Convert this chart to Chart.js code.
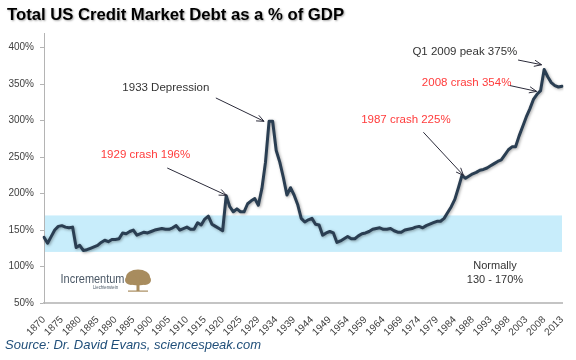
<!DOCTYPE html>
<html>
<head>
<meta charset="utf-8">
<script src="https://cdn.jsdelivr.net/npm/chart.js@4/dist/chart.umd.min.js"></script>
<style>
  html, body { margin: 0; padding: 0; background: #fff; }
  #wrap { width: 576px; height: 360px; }
</style>
</head>
<body>
<div id="wrap"><canvas id="debtChart" width="576" height="360"></canvas></div>
<script>
// categories (one per data point, axis labels every 5th)
var years = [
  1870, 1871, 1872, 1873, 1874, 1875, 1876, 1877, 1878, 1879,
  1880, 1881, 1882, 1883, 1884, 1885, 1886, 1887, 1888, 1889,
  1890, 1891, 1892, 1893, 1894, 1895, 1896, 1897, 1898, 1899,
  1900, 1901, 1902, 1903, 1904, 1905, 1906, 1907, 1908, 1909,
  1910, 1911, 1912, 1913, 1914, 1915, 1916, 1917, 1918, 1919,
  1920, 1921, 1922, 1923, 1924, 1925, 1926, 1927, 1928, 1929,
  1929, 1930, 1931, 1932, 1933, 1934, 1935, 1936, 1937, 1938,
  1939, 1940, 1941, 1942, 1943, 1944, 1945, 1946, 1947, 1948,
  1949, 1950, 1951, 1952, 1953, 1954, 1955, 1956, 1957, 1958,
  1959, 1960, 1961, 1962, 1963, 1964, 1965, 1966, 1967, 1968,
  1969, 1970, 1971, 1972, 1973, 1974, 1975, 1976, 1977, 1978,
  1979, 1980, 1981, 1982, 1983, 1984, 1985, 1986, 1987, 1987,
  1988, 1989, 1990, 1991, 1992, 1993, 1994, 1995, 1996, 1997,
  1998, 1999, 2000, 2001, 2002, 2003, 2004, 2005, 2006, 2007,
  2008, 2009, 2010, 2011, 2012, 2013
];

// debt as % of GDP
var debtPct = [
  140, 132, 141, 150, 155, 156, 154, 153, 154, 126,
  129, 122, 123, 125, 127, 129, 133, 136, 134, 137,
  137, 138, 146, 145, 148, 150, 143, 145, 147, 146,
  148, 150, 151, 152, 151, 151, 153, 156, 150, 152,
  154, 151, 151, 160, 157, 165, 169, 158, 155, 152,
  149, 197, 182, 175, 179, 175, 175, 186, 190, 193,
  184, 207, 243, 299, 299, 259, 243, 222, 198, 208,
  198, 185, 166, 161, 164, 166, 158, 157, 143, 146,
  148, 146, 133, 135, 138, 141, 138, 138, 142, 145,
  146, 148, 151, 152, 153, 151, 151, 152, 149, 147,
  147, 150, 151, 152, 154, 155, 153, 156, 158, 160,
  162, 162, 166, 174, 182, 192, 208, 225, 221, 224,
  227, 229, 232, 233, 235, 238, 241, 244, 246, 253,
  260, 264, 264, 279, 292, 305, 316, 329, 336, 341,
  370, 360, 352, 348, 346, 347
];

var yTicks = [50, 100, 150, 200, 250, 300, 350, 400];
var normalBand = [120, 170];

// annotations: text position and arrow in data units (category index, %)
var notes = [
  { text: '1933 Depression', color: '#333333', at: [34.1, 345.5], from: [48.1, 331], to: [61.6, 299] },
  { text: '1929 crash 196%', color: '#ff3b3b', at: [28.4, 253], from: [34.5, 235], to: [51.1, 197.5] },
  { text: '1987 crash 225%', color: '#ff3b3b', at: [101.3, 301], from: [106.2, 284], to: [117.4, 225] },
  { text: '2008 crash 354%', color: '#ff3b3b', at: [118.3, 352], from: [130.4, 348], to: [137.9, 340] },
  { text: 'Q1 2009 peak 375%', color: '#333333', at: [117.8, 394.6], from: [132.7, 383], to: [139.3, 376.5] }
];
var bandNote = ['Normally', '130 - 170%'];

var FONT = '"Liberation Sans", Arial, sans-serif';

var bandPlugin = {
  id: 'band',
  beforeDatasetsDraw: function (chart) {
    var ctx = chart.ctx, a = chart.chartArea, y = chart.scales.y;
    var top = y.getPixelForValue(normalBand[1]);
    var bot = y.getPixelForValue(normalBand[0]);
    ctx.save();
    ctx.fillStyle = '#c8edfb';
    ctx.fillRect(a.left + 1, top, a.right - a.left - 1, bot - top);
    ctx.restore();
  }
};

var shadowPlugin = {
  id: 'lineShadow',
  beforeDatasetDraw: function (chart) {
    var ctx = chart.ctx;
    ctx.save();
    ctx.shadowColor = 'rgba(0,0,0,0.35)';
    ctx.shadowBlur = 3;
    ctx.shadowOffsetX = 1;
    ctx.shadowOffsetY = 1;
  },
  afterDatasetDraw: function (chart) {
    chart.ctx.restore();
  }
};

function drawArrow(ctx, x1, y1, x2, y2) {
  var ang = Math.atan2(y2 - y1, x2 - x1);
  var len = 8;
  ctx.beginPath();
  ctx.moveTo(x1, y1);
  ctx.lineTo(x2, y2);
  ctx.moveTo(x2 - len * Math.cos(ang - 0.4), y2 - len * Math.sin(ang - 0.4));
  ctx.lineTo(x2, y2);
  ctx.lineTo(x2 - len * Math.cos(ang + 0.4), y2 - len * Math.sin(ang + 0.4));
  ctx.stroke();
}

var textPlugin = {
  id: 'texts',
  afterDraw: function (chart) {
    var ctx = chart.ctx, xs = chart.scales.x, ys = chart.scales.y, a = chart.chartArea;
    var px = function (i) { return xs.left + (xs.right - xs.left) * i / (years.length - 1); };
    var py = function (v) { return ys.getPixelForValue(v); };
    ctx.save();

    // title
    ctx.save();
    ctx.font = 'bold 17px ' + FONT;
    ctx.fillStyle = '#000';
    ctx.textBaseline = 'alphabetic';
    ctx.shadowColor = 'rgba(0,0,0,0.35)';
    ctx.shadowBlur = 2;
    ctx.shadowOffsetX = 1;
    ctx.shadowOffsetY = 1;
    ctx.fillText('Total US Credit Market Debt as a % of GDP', 7, 20, 337);
    ctx.restore();

    // source
    ctx.font = 'italic 13px ' + FONT;
    ctx.fillStyle = '#1f4e79';
    ctx.textBaseline = 'middle';
    ctx.fillText('Source: Dr. David Evans, sciencespeak.com', 5, 345);

    // annotations
    ctx.font = '11.5px ' + FONT;
    ctx.textAlign = 'center';
    ctx.lineWidth = 1;
    ctx.strokeStyle = '#2b2b3a';
    notes.forEach(function (n) {
      ctx.fillStyle = n.color;
      ctx.fillText(n.text, px(n.at[0]), py(n.at[1]));
      drawArrow(ctx, px(n.from[0]), py(n.from[1]), px(n.to[0]), py(n.to[1]));
    });

    // band label
    ctx.fillStyle = '#333';
    ctx.font = '11px ' + FONT;
    ctx.fillText(bandNote[0], 495, 266);
    ctx.fillText(bandNote[1], 495, 279.5);

    // Incrementum logo
    ctx.textAlign = 'left';
    ctx.fillStyle = '#4b5866';
    ctx.font = '13px ' + FONT;
    ctx.fillText('Incrementum', 60.5, 279, 64);
    ctx.font = '4.5px ' + FONT;
    ctx.fillText('Liechtenstein', 93, 287.5, 25);
    ctx.fillStyle = '#a88c5e';
    ctx.beginPath();
    ctx.ellipse(138, 277.5, 12, 8, 0, 0, Math.PI * 2);
    ctx.fill();
    ctx.beginPath();
    ctx.ellipse(131, 280, 6, 5, 0, 0, Math.PI * 2);
    ctx.ellipse(145, 280, 6, 5, 0, 0, Math.PI * 2);
    ctx.fill();
    ctx.fillRect(136.5, 282, 3, 9);
    ctx.fillRect(128, 290.5, 20, 1.2);

    ctx.restore();
  }
};

var ctx = document.getElementById('debtChart').getContext('2d');
var debtChart = new Chart(ctx, {
  type: 'line',
  data: {
    labels: years,
    datasets: [{
      data: debtPct,
      borderColor: '#2a3e52',
      borderWidth: 3,
      borderJoinStyle: 'round',
      borderCapStyle: 'round',
      pointRadius: 0,
      tension: 0,
      fill: false
    }]
  },
  options: {
    responsive: false,
    animation: false,
    layout: { padding: { top: 33, right: 14, left: 0, bottom: 0 } },
    plugins: {
      legend: { display: false },
      tooltip: { enabled: false }
    },
    scales: {
      x: {
        type: 'category',
        offset: false,
        border: { color: '#c4c4c4', width: 2 },
        grid: { display: false },
        ticks: {
          autoSkip: false,
          maxRotation: 45,
          minRotation: 45,
          padding: 3,
          color: '#404040',
          font: { family: FONT, size: 10 },
          callback: function (val, i) { return i % 5 === 0 ? String(years[i]) : null; }
        },
        afterFit: function (scale) { scale.height = 57; }
      },
      y: {
        min: 50,
        max: 420,
        border: { color: '#b4b4b4', width: 1 },
        grid: { drawOnChartArea: false, drawTicks: true, tickLength: 4, color: '#b4b4b4' },
        afterBuildTicks: function (scale) {
          scale.ticks = yTicks.map(function (v) { return { value: v }; });
        },
        ticks: {
          padding: 6,
          color: '#404040',
          font: { family: FONT, size: 10 },
          callback: function (v) { return v + '%'; }
        },
        afterFit: function (scale) { scale.width = 44; }
      }
    }
  },
  plugins: [bandPlugin, shadowPlugin, textPlugin]
});
</script>
</body>
</html>
